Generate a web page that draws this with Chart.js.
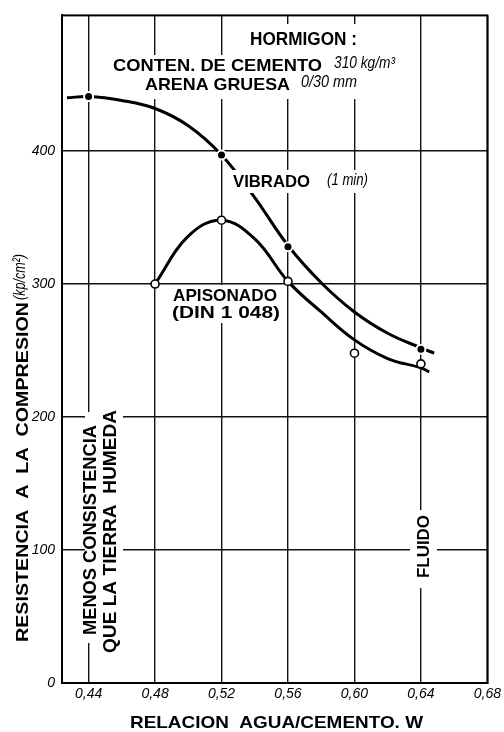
<!DOCTYPE html>
<html>
<head>
<meta charset="utf-8">
<script src="https://cdn.jsdelivr.net/npm/chart.js@4/dist/chart.umd.min.js"></script>
<style>
  html, body { margin: 0; padding: 0; background: #fff; }
  #wrap { width: 504px; height: 732px; position: relative; }
</style>
</head>
<body>
<div id="wrap"><canvas id="c"></canvas></div>
<script>
// ---- data ----
const xTicks = [0.44, 0.48, 0.52, 0.56, 0.60, 0.64, 0.68];
const yTicks = [0, 100, 200, 300, 400];

// Vibrado (1 min): measured points and drawn curve
const vibradoX = [0.44, 0.52, 0.56, 0.64];
const vibradoY = [441, 397, 328, 251];
const vibradoCurveX = [0.427, 0.44, 0.46, 0.48, 0.50, 0.52, 0.54, 0.56, 0.58, 0.60, 0.62, 0.64, 0.648];
const vibradoCurveY = [440, 441, 438, 432, 419, 397, 365, 329, 301, 279, 263, 252, 248];

// Apisonado (DIN 1 048): measured points and drawn curve
const apisonadoX = [0.48, 0.52, 0.56, 0.60, 0.64];
const apisonadoY = [300, 348, 302, 248, 240];
const apisonadoCurveX = [0.48, 0.50, 0.52, 0.54, 0.56, 0.58, 0.60, 0.62, 0.64, 0.645];
const apisonadoCurveY = [300, 336, 348, 334, 302, 279, 258, 244, 237, 234];

const zip = (xs, ys) => xs.map((x, i) => ({ x: x, y: ys[i] }));

// ---- annotation text (layout) ----
const BOLD = '"Liberation Sans", Arial, sans-serif';
const labels = [
  { t: 'HORMIGON :', f: 'bold 18px ' + BOLD, x: 303.5, y: 38.5, w: 107 },
  { t: 'CONTEN. DE CEMENTO', f: 'bold 17px ' + BOLD, x: 217.5, y: 65, w: 209 },
  { t: '310 kg/m³', f: 'italic 16px ' + BOLD, x: 364.5, y: 64, w: 61, mid: true },
  { t: 'ARENA GRUESA', f: 'bold 17px ' + BOLD, x: 217.5, y: 84, w: 145 },
  { t: '0/30 mm', f: 'italic 16px ' + BOLD, x: 329, y: 83, w: 56, mid: true },
  { t: 'VIBRADO', f: 'bold 17px ' + BOLD, x: 271.5, y: 181, w: 77 },
  { t: '(1 min)', f: 'italic 16px ' + BOLD, x: 347.5, y: 181, w: 41, mid: true },
  { t: 'APISONADO', f: 'bold 17px ' + BOLD, x: 225, y: 295, w: 104 },
  { t: '(DIN 1 048)', f: 'bold 17px ' + BOLD, x: 226, y: 311.5, w: 108 },
  { t: 'MENOS CONSISTENCIA', f: 'bold 18px ' + BOLD, x: 90, y: 530, w: 210, rot: true },
  { t: 'QUE LA TIERRA  HUMEDA', f: 'bold 18px ' + BOLD, x: 109.5, y: 531.5, w: 243, rot: true },
  { t: 'FLUIDO', f: 'bold 17px ' + BOLD, x: 423, y: 546.5, w: 63, rot: true },
  { t: 'RESISTENCIA  A  LA  COMPRESION', f: 'bold 17px ' + BOLD, x: 21.5, y: 472, w: 340, rot: true },
  { t: '(kp/cm²)', f: 'italic 17px ' + BOLD, x: 20, y: 277, w: 46, rot: true, mid: true },
  { t: 'RELACION  AGUA/CEMENTO. W', f: 'bold 17px ' + BOLD, x: 276.5, y: 722, w: 293 }
];
// white knock-out areas where the printed text interrupts grid lines and curves
const knockouts = [
  [244, 24, 362, 55], [108, 55, 400, 75], [140, 75, 362, 99],
  [228, 170, 372, 193], [168, 285, 285, 323],
  [85, 412, 123, 643], [410, 510, 437, 588]
];

function drawLabel(ctx, L) {
  ctx.save();
  ctx.translate(L.x, L.y);
  if (L.rot) ctx.rotate(-Math.PI / 2);
  ctx.font = L.f;
  const m = ctx.measureText(L.t).width;
  ctx.scale(L.w / m, 1);
  ctx.textAlign = 'center';
  ctx.fillStyle = '#000';
  let off = 0;
  if (L.mid) { ctx.textBaseline = 'middle'; }
  else { ctx.textBaseline = 'alphabetic'; off = parseFloat(L.f.match(/(\d+)px/)[1]) * 0.36; }
  ctx.fillText(L.t, 0, off);
  ctx.restore();
}

const annot = {
  id: 'annot',
  beforeDraw(chart) {
    const ctx = chart.ctx;
    ctx.save(); ctx.fillStyle = '#fff'; ctx.fillRect(0, 0, chart.width, chart.height); ctx.restore();
  },
  beforeDatasetsDraw(chart) {
    const { ctx, chartArea: a } = chart;
    ctx.save();
    ctx.strokeStyle = '#000'; ctx.lineWidth = 2;
    ctx.strokeRect(a.left, a.top, a.right - a.left, a.bottom - a.top);
    ctx.restore();
  },
  afterDatasetsDraw(chart) {
    const ctx = chart.ctx;
    ctx.save();
    ctx.fillStyle = '#fff';
    knockouts.forEach(k => ctx.fillRect(k[0], k[1], k[2] - k[0], k[3] - k[1]));
    ctx.restore();
  },
  afterDraw(chart) {
    labels.forEach(L => drawLabel(chart.ctx, L));
  }
};

new Chart(document.getElementById('c'), {
  type: 'scatter',
  data: {
    datasets: [
      { label: 'Vibrado (1 min) puntos', data: zip(vibradoX, vibradoY), order: 1,
        pointRadius: 4.5, pointBackgroundColor: '#000', pointBorderColor: '#fff', pointBorderWidth: 2, showLine: false },
      { label: 'Apisonado (DIN 1 048) puntos', data: zip(apisonadoX, apisonadoY), order: 1,
        pointRadius: 4, pointBackgroundColor: '#fff', pointBorderColor: '#000', pointBorderWidth: 1.6, showLine: false },
      { label: 'Vibrado (1 min)', data: zip(vibradoCurveX, vibradoCurveY), order: 2,
        showLine: true, borderColor: '#000', borderWidth: 3, pointRadius: 0, tension: 0.4, fill: false },
      { label: 'Apisonado (DIN 1 048)', data: zip(apisonadoCurveX, apisonadoCurveY), order: 2,
        showLine: true, borderColor: '#000', borderWidth: 3, pointRadius: 0, tension: 0.4, fill: false }
    ]
  },
  options: {
    responsive: true,
    maintainAspectRatio: false,
    animation: false,
    layout: { padding: { top: 7, right: 14, left: 0, bottom: 0 } },
    plugins: { legend: { display: false }, tooltip: { enabled: false } },
    scales: {
      x: {
        type: 'linear', min: 0.424, max: 0.68,
        afterBuildTicks: s => { s.ticks = xTicks.map(v => ({ value: v })); },
        afterFit: s => { s.height = 49; },
        grid: { color: '#111', lineWidth: 1.4, drawTicks: false },
        border: { display: true, color: '#000', width: 2 },
        ticks: { color: '#000', padding: 3, maxRotation: 0, autoSkip: false,
          font: { family: BOLD, style: 'italic', size: 14 },
          callback: v => v.toFixed(2).replace('.', ',') }
      },
      y: {
        type: 'linear', min: 0, max: 502,
        afterBuildTicks: s => { s.ticks = yTicks.map(v => ({ value: v })); },
        afterFit: s => { s.width = 62; },
        grid: { color: '#111', lineWidth: 1.4, drawTicks: false },
        border: { display: true, color: '#000', width: 2 },
        ticks: { color: '#000', padding: 7, autoSkip: false,
          font: { family: BOLD, style: 'italic', size: 14 },
          callback: v => String(v) }
      }
    }
  },
  plugins: [annot]
});
</script>
</body>
</html>
